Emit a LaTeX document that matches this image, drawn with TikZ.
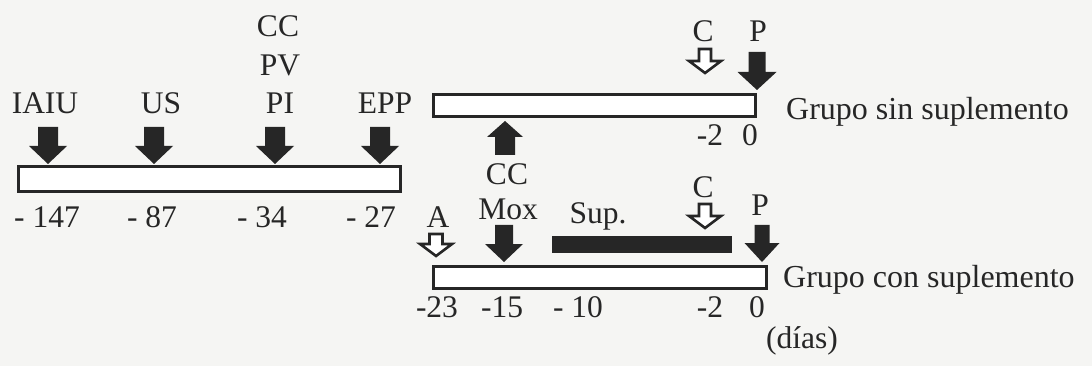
\documentclass[tikz,border=0pt]{standalone}
\usepackage{fontspec}
\setmainfont{Liberation Serif}
\usetikzlibrary{calc}
\definecolor{ink}{HTML}{262626}
\definecolor{paper}{HTML}{F5F5F3}
\tikzset{
  lbl/.style={anchor=base, inner sep=0pt, text=ink, font=\fontsize{31.5}{37}\selectfont},
  lblw/.style={anchor=base west, inner sep=0pt, text=ink, font=\fontsize{32}{38}\selectfont},
  barbox/.style={draw=ink, line width=3pt, fill=white, inner sep=0pt, minimum width=#1},
  barbox/.default=100pt,
  supbar/.style={fill=ink, draw=none, inner sep=0pt},
  solidarr/.style={fill=ink, draw=none},
  openarr/.style={draw=ink, line width=2.6pt, fill=white, line join=miter},
}
% #1 extra opts, #2 style, #3 tip coordinate, #4 length, #5 head length, #6 head half width, #7 shaft half width
\newcommand{\blockarr}[7][]{%
  \path[#2, shift={(#3)}, #1] (0,0) -- (-#6,-#5) -- (-#7,-#5) -- (-#7,-#4) -- (#7,-#4) -- (#7,-#5) -- (#6,-#5) -- cycle;}
\begin{document}
\begin{tikzpicture}[x=1pt,y=-1pt]
\fill[paper] (0,0) rectangle (1092,366);
\useasboundingbox (0,0) rectangle (1092,366);

% bars
\node[barbox=382pt, minimum height=25pt] (bar1) at (209.5,179) {};
\node[barbox=322pt, minimum height=22pt] (bar2) at (594.5,105.5) {};
\node[barbox=333pt, minimum height=22pt] (bar3) at (600,277.5) {};
\node[supbar, minimum width=180pt, minimum height=17pt] (sup) at (642,244.5) {};

% arrow tips
\coordinate (tIAIU) at (48,164);
\coordinate (tUS) at (154,164);
\coordinate (tPI) at (275,164);
\coordinate (tEPP) at (380,164);
\coordinate (tC1) at (705,73);
\coordinate (tP1) at (757,90);
\coordinate (tCC) at (505,121);
\coordinate (tA) at (436,256);
\coordinate (tMox) at (504,262);
\coordinate (tC2) at (705,228);
\coordinate (tP2) at (762,262);

% arrows
\blockarr{solidarr}{tIAIU}{37}{18}{19}{10}
\blockarr{solidarr}{tUS}{37}{18}{19}{10}
\blockarr{solidarr}{tPI}{37}{18}{19}{10}
\blockarr{solidarr}{tEPP}{37}{18}{19}{10}
\blockarr{openarr}{tC1}{24}{12}{16}{6}
\blockarr{solidarr}{tP1}{38}{18}{19.5}{8.5}
\blockarr[rotate=180]{solidarr}{tCC}{34}{16}{18}{10}
\blockarr{openarr}{tA}{22}{12}{16}{6.5}
\blockarr{solidarr}{tMox}{37}{18}{19}{9}
\blockarr{openarr}{tC2}{24}{12}{16}{6}
\blockarr{solidarr}{tP2}{37}{19}{17.5}{7.5}

% labels, first line
\node[lbl] (lIAIU) at (45,114) {IAIU};
\node[lbl] (lUS) at (161,114) {US};
\node[lbl] (lPI) at (280,114) {PI};
\node[lbl] (lPV) at (280,76) {PV};
\node[lbl] (lCCa) at (278,37) {CC};
\node[lbl] (lEPP) at (385,114) {EPP};
\node[lbl] (n147) at (47,228) {- 147};
\node[lbl] (n87) at (152,228) {- 87};
\node[lbl] (n34) at (262,228) {- 34};
\node[lbl] (n27) at (371,228) {- 27};

% group without supplement
\node[lbl] (lC1) at (703,42) {C};
\node[lbl] (lP1) at (758,42) {P};
\node[lbl] (m2a) at (710,146) {-2};
\node[lbl] (z1) at (750,146) {0};
\node[lbl] (lCCb) at (507,185) {CC};
\node[lblw] (g1) at (786,120) {Grupo sin suplemento};

% group with supplement
\node[lbl] (lA) at (438,228) {A};
\node[lbl] (lMox) at (508,220) {Mox};
\node[lbl] (lSup) at (598,223) {Sup.};
\node[lbl] (lC2) at (703,197) {C};
\node[lbl] (lP2) at (760,215) {P};
\node[lbl] (m23) at (437,317) {-23};
\node[lbl] (m15) at (502,317) {-15};
\node[lbl] (m10) at (578,317) {- 10};
\node[lbl] (m2b) at (710,317) {-2};
\node[lbl] (z2) at (757,317) {0};
\node[lblw] (g2) at (783,287) {Grupo con suplemento};
\node[lbl] (dias) at (802,348) {(días)};
\end{tikzpicture}
\end{document}
